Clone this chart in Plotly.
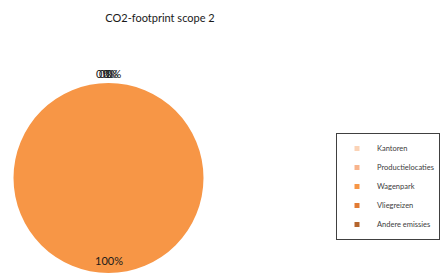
import math
import plotly.graph_objects as go

categories = ["Kantoren", "Productielocaties", "Wagenpark", "Vliegreizen", "Andere emissies"]
values = [0, 0, 100, 0, 0]
colors = ["#fbd3b6", "#f8b48c", "#f79646", "#e27b33", "#b5652d"]
title_text = "CO2-footprint scope 2"

W, H = 441, 273
FONT = "Lato"

# pie geometry (pixels)
cx_px, cy_px_top, R = 108.5, 178.5, 95.5
cy_px = H - cy_px_top  # from bottom

fig = go.Figure()
fig.add_trace(go.Pie(
    labels=categories, values=values, sort=False, direction="clockwise",
    rotation=0, marker=dict(colors=colors, line=dict(width=0)),
    textinfo="none", hoverinfo="label+percent", showlegend=False,
    domain=dict(x=[(cx_px - R) / W, (cx_px + R) / W],
                y=[max(0, (cy_px - R) / H), min(1, (cy_px + R) / H)]),
))

# legend entries via invisible scatter traces (small square swatches)
for c, col in zip(categories, colors):
    fig.add_trace(go.Scatter(
        x=[None], y=[None], mode="markers", name=c,
        marker=dict(symbol="square", size=5, color=col),
        showlegend=True,
    ))

# percentage labels computed from the data
total = sum(values)
cum = 0
zero_idx = 0
offsets = [-5, -2, 2, 5]
annotations = []
for v in values:
    frac = v / total
    mid = (cum + frac / 2) * 2 * math.pi
    cum += frac
    if frac >= 0.5:
        r = 0.86 * R
        dx = 0
    else:
        r = 1.1 * R
        dx = offsets[zero_idx % len(offsets)]
        zero_idx += 1
    px = cx_px + r * math.sin(mid)
    py = cy_px + r * math.cos(mid)
    annotations.append(dict(
        x=px / W, y=py / H, xref="paper", yref="paper",
        text=f"{round(frac * 100)}%", showarrow=False, xshift=dx,
        font=dict(family=FONT, size=11, color="#1a1a1a"),
        xanchor="center", yanchor="middle",
    ))

fig.update_layout(
    width=W, height=H,
    margin=dict(l=0, r=0, t=0, b=0),
    paper_bgcolor="white", plot_bgcolor="white",
    title=dict(text=title_text, x=160 / W, xanchor="center",
               y=1 - 18 / H, yanchor="middle",
               font=dict(family=FONT, size=11, color="#1a1a1a")),
    xaxis=dict(visible=False), yaxis=dict(visible=False),
    legend=dict(x=336 / W, xanchor="left", y=1 - 133 / H, yanchor="top",
                bordercolor="#404040", borderwidth=1, bgcolor="white",
                font=dict(family=FONT, size=7.5, color="#404040"),
                itemclick=False, tracegroupgap=0),
    annotations=annotations,
)

fig.write_html("out.html",
               config={"displayModeBar": False},
               post_script="document.body.style.margin='0';document.body.style.overflow='hidden';")
